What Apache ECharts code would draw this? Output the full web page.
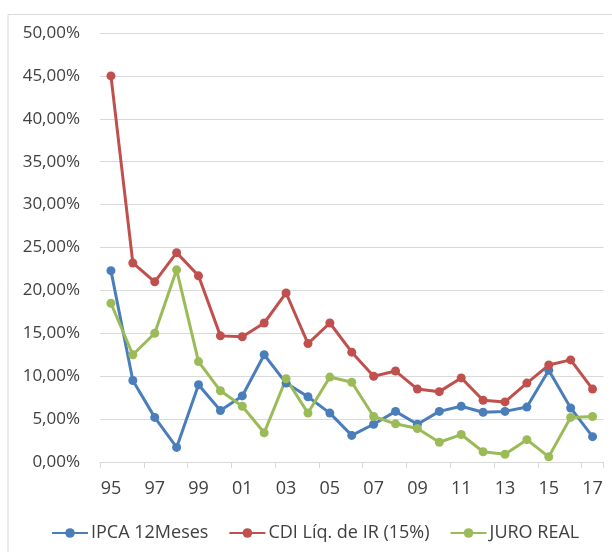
<!DOCTYPE html>
<html>
<head>
<meta charset="utf-8">
<script src="https://cdn.jsdelivr.net/npm/echarts@6/dist/echarts.min.js"></script>
<style>html,body{margin:0;padding:0;background:#fff}#c{width:612px;height:552px}</style>
</head>
<body>
<div id="c"></div>
<script>
var years = ['95','96','97','98','99','00','01','02','03','04','05','06','07','08','09','10','11','12','13','14','15','16','17'];
var ipca = [22.3, 9.5, 5.2, 1.7, 9.0, 6.0, 7.7, 12.5, 9.2, 7.6, 5.7, 3.1, 4.4, 5.9, 4.4, 5.9, 6.5, 5.8, 5.9, 6.4, 10.7, 6.3, 2.95];
var cdi = [45.0, 23.2, 21.0, 24.4, 21.7, 14.7, 14.6, 16.2, 19.7, 13.8, 16.2, 12.8, 10.0, 10.6, 8.5, 8.2, 9.8, 7.2, 7.0, 9.2, 11.3, 11.9, 8.5];
var juro = [18.5, 12.5, 15.0, 22.4, 11.7, 8.3, 6.5, 3.4, 9.7, 5.7, 9.9, 9.3, 5.3, 4.45, 3.9, 2.3, 3.2, 1.2, 0.9, 2.6, 0.6, 5.2, 5.3];
var seriesNames = ['IPCA 12Meses', 'CDI Líq. de IR (15%)', 'JURO REAL'];
var colors = ['#4A7EBB', '#C0504D', '#9BBB59'];

var chart = echarts.init(document.getElementById('c'), null, {renderer: 'canvas'});
var font = 'Open Sans';
function mk(name, data, color) {
  return {
    name: name, type: 'line', data: data,
    symbol: 'circle', symbolSize: 9,
    itemStyle: {color: color},
    lineStyle: {color: color, width: 3},
    emphasis: {disabled: true}
  };
}
chart.setOption({
  animation: false,
  color: colors,
  textStyle: {fontFamily: font},
  graphic: [{
    type: 'rect', left: 5.5, top: 12, silent: true,
    shape: {width: 620, height: 560},
    style: {fill: 'none', stroke: '#d9d9d9', lineWidth: 1}
  }],
  grid: {left: 100, right: 8.5, top: 33, bottom: 90, containLabel: false},
  xAxis: {
    type: 'category', data: years, boundaryGap: true,
    axisLine: {lineStyle: {color: '#d9d9d9', width: 1}},
    axisTick: {show: true, interval: 1, length: 6, lineStyle: {color: '#d9d9d9'}},
    axisLabel: {interval: 1, color: '#404040', fontSize: 18, fontFamily: font, margin: 18}
  },
  yAxis: {
    type: 'value', min: 0, max: 50, interval: 5,
    axisLine: {show: false}, axisTick: {show: false},
    splitLine: {lineStyle: {color: '#d9d9d9', width: 1}},
    axisLabel: {
      color: '#404040', fontSize: 17, fontFamily: font, margin: 20,
      formatter: function (v) { return v.toFixed(2).replace('.', ',') + '%'; }
    }
  },
  legend: {
    bottom: 5, left: 46, itemWidth: 36, itemHeight: 12, itemGap: 20,
    textStyle: {color: '#404040', fontSize: 18, fontFamily: font, padding: [0, 0, 0, -2]},
    data: seriesNames
  },
  series: [
    mk(seriesNames[0], ipca, colors[0]),
    mk(seriesNames[1], cdi, colors[1]),
    mk(seriesNames[2], juro, colors[2])
  ]
});
</script>
</body>
</html>
